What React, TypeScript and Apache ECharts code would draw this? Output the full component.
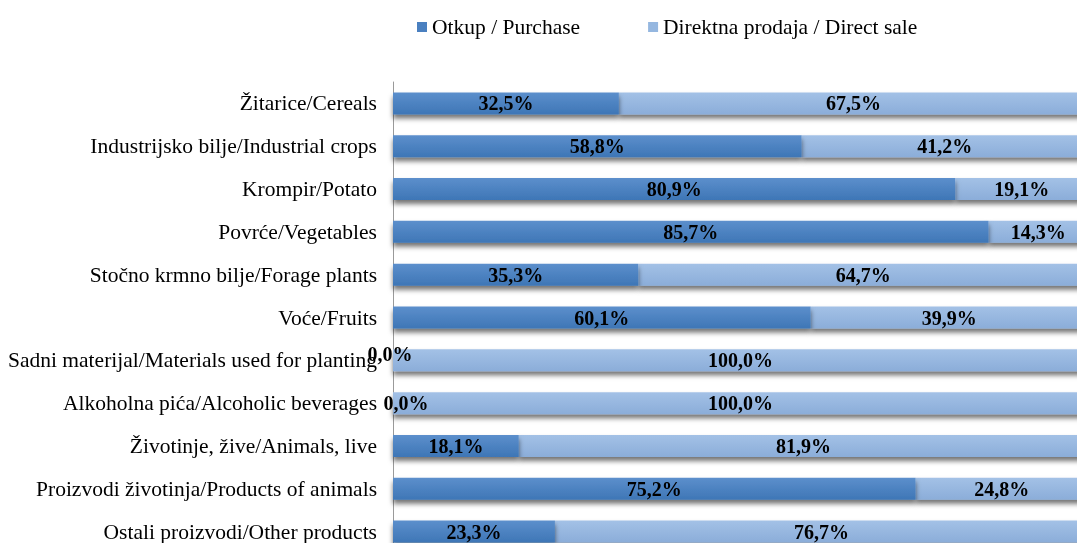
import React, { useEffect, useRef } from "react";
import * as echarts from "echarts";

const categories = [
  "Žitarice/Cereals",
  "Industrijsko bilje/Industrial crops",
  "Krompir/Potato",
  "Povrće/Vegetables",
  "Stočno krmno bilje/Forage plants",
  "Voće/Fruits",
  "Sadni materijal/Materials used for planting",
  "Alkoholna pića/Alcoholic beverages",
  "Životinje, žive/Animals, live",
  "Proizvodi životinja/Products of animals",
  "Ostali proizvodi/Other products",
];

const purchase = [32.5, 58.8, 80.9, 85.7, 35.3, 60.1, 0.0, 0.0, 18.1, 75.2, 23.3];
const directSale = [67.5, 41.2, 19.1, 14.3, 64.7, 39.9, 100.0, 100.0, 81.9, 24.8, 76.7];

const seriesNames = ["Otkup / Purchase", "Direktna prodaja / Direct sale"];

const fmt = (v: number) => v.toFixed(1).replace(".", ",") + "%";

export default function App() {
  const ref = useRef<HTMLDivElement>(null);
  useEffect(() => {
    if (!ref.current) return;
    const chart = echarts.init(ref.current, undefined, { renderer: "svg" });
    const serif = "Liberation Serif";
    const darkGrad = new echarts.graphic.LinearGradient(0, 0, 0, 1, [
      { offset: 0, color: "#5c8fcc" },
      { offset: 1, color: "#3e76b6" },
    ]);
    const lightGrad = new echarts.graphic.LinearGradient(0, 0, 0, 1, [
      { offset: 0, color: "#a3c1e6" },
      { offset: 1, color: "#8badd9" },
    ]);
    const shadow = {
      shadowColor: "rgba(0,0,0,0.55)",
      shadowBlur: 5,
      shadowOffsetY: 4,
    };
    const labelStyle = {
      show: true,
      position: "inside" as const,
      color: "#000",
      fontFamily: serif,
      fontWeight: "bold" as const,
      fontSize: 20,
      formatter: (p: any) => fmt(p.value),
    };
    const zeroOffsets: Record<number, number[]> = { 6: [-3, -6], 7: [13, 0] };
    chart.setOption({
      animation: false,
      textStyle: { fontFamily: serif },
      legend: {
        left: 412,
        top: 11,
        itemWidth: 10,
        itemHeight: 10,
        itemGap: 68,
        icon: "rect",
        textStyle: { fontFamily: serif, fontSize: 21.5, color: "#000" },
        data: [
          { name: seriesNames[0], itemStyle: { color: "#4a80c0" } },
          { name: seriesNames[1], itemStyle: { color: "#95b7e0" } },
        ],
      },
      grid: { left: 393, width: 695, top: 82, height: 471, containLabel: false },
      xAxis: {
        type: "value",
        min: 0,
        max: 100,
        show: false,
      },
      yAxis: {
        type: "category",
        inverse: true,
        data: categories,
        axisLine: { show: true, lineStyle: { color: "#9a9a9a", width: 1 } },
        axisTick: { show: false },
        axisLabel: {
          margin: 16,
          fontFamily: serif,
          fontSize: 21.5,
          color: "#000",
        },
      },
      series: [
        {
          name: seriesNames[0],
          type: "bar",
          stack: "total",
          barWidth: 22,
          clip: false,
          itemStyle: { color: darkGrad, ...shadow },
          label: labelStyle,
          z: 3,
          data: purchase.map((v, i) =>
            zeroOffsets[i]
              ? { value: v, label: { offset: zeroOffsets[i] } }
              : v
          ),
        },
        {
          name: seriesNames[1],
          type: "bar",
          stack: "total",
          barWidth: 22,
          clip: false,
          itemStyle: { color: lightGrad, ...shadow },
          label: labelStyle,
          z: 2,
          data: directSale,
        },
      ],
    });
    return () => chart.dispose();
  }, []);
  return (
    <div style={{ position: "fixed", left: 0, top: 0, width: 1077, height: 543, overflow: "hidden" }}>
      <div ref={ref} style={{ width: 1092, height: 556 }} />
    </div>
  );
}
